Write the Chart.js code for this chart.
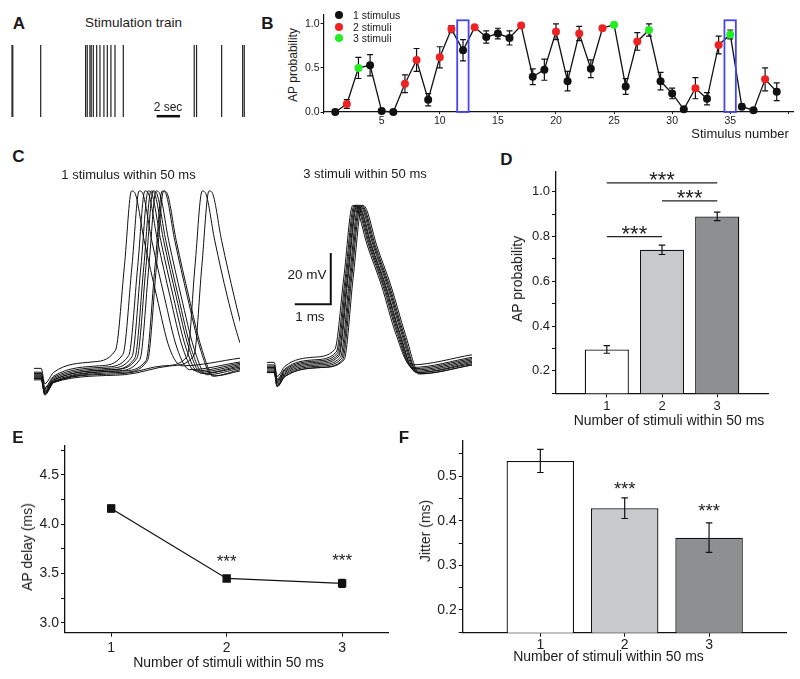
<!DOCTYPE html>
<html>
<head>
<meta charset="utf-8">
<script src="https://cdn.jsdelivr.net/npm/chart.js@4.4.1/dist/chart.umd.min.js"></script>
<style>
  body { margin: 0; background: #fff; }
  #fig { position: relative; width: 800px; height: 679px; overflow: hidden; background: #fff;
         font-family: 'Liberation Sans', Arial, sans-serif; color: #1a1a1a; }
  #fig canvas { position: absolute; }
  .t { position: absolute; white-space: nowrap; line-height: 1; transform: translate(-50%, -50%); }
  .v { transform: translate(-50%, -50%) rotate(-90deg); }
  .p { font-weight: bold; font-size: 17px; }
  .dot { position: absolute; width: 8px; height: 8px; border-radius: 50%; transform: translate(-50%, -50%); }
  .lg { position: absolute; font-size: 10.5px; line-height: 1; transform: translateY(-50%); white-space: nowrap; }
</style>
</head>
<body>
<div id="fig">
  <canvas id="trainChart" width="240" height="80" style="left:10px;top:41px"></canvas>
  <canvas id="probChart" width="500" height="140" style="left:300px;top:0px"></canvas>
  <canvas id="singleChart" width="206" height="217" style="left:34px;top:182px"></canvas>
  <canvas id="tripleChart" width="205" height="217" style="left:267px;top:176px"></canvas>
  <canvas id="groupProbChart" width="280" height="270" style="left:520px;top:160px"></canvas>
  <canvas id="delayChart" width="380" height="235" style="left:20px;top:435px"></canvas>
  <canvas id="jitterChart" width="400" height="240" style="left:400px;top:430px"></canvas>

  <div class="t p" style="left:19px;top:22.5px">A</div>
  <div class="t p" style="left:267.5px;top:22.5px">B</div>
  <div class="t p" style="left:18.5px;top:156px">C</div>
  <div class="t p" style="left:506.5px;top:159px">D</div>
  <div class="t p" style="left:18px;top:437px">E</div>
  <div class="t p" style="left:404px;top:437px">F</div>

  <div class="t" style="left:133.5px;top:23px;font-size:13.5px">Stimulation train</div>
  <div class="t" style="left:168px;top:107px;font-size:12px">2 sec</div>

  <div class="t v" style="left:292.5px;top:65px;font-size:12px">AP probability</div>
  <div class="t" style="left:740px;top:132.5px;font-size:13px">Stimulus number</div>
  <div class="dot" style="left:339px;top:15px;background:#111"></div>
  <div class="dot" style="left:339px;top:26.5px;background:#ee2222"></div>
  <div class="dot" style="left:339px;top:38.3px;background:#22ee22"></div>
  <div class="lg" style="left:353px;top:15px">1 stimulus</div>
  <div class="lg" style="left:353px;top:26.5px">2 stimuli</div>
  <div class="lg" style="left:353px;top:38.3px">3 stimuli</div>

  <div class="t" style="left:128.5px;top:174px;font-size:13px">1 stimulus within 50 ms</div>
  <div class="t" style="left:365px;top:172.7px;font-size:13px">3 stimuli within 50 ms</div>
  <div class="t" style="left:307px;top:275px;font-size:13.5px">20 mV</div>
  <div class="t" style="left:310px;top:316.7px;font-size:13.5px">1 ms</div>

  <div class="t v" style="left:516.7px;top:279px;font-size:14px">AP probability</div>
  <div class="t" style="left:669px;top:420px;font-size:14px">Number of stimuli within 50 ms</div>

  <div class="t v" style="left:26.7px;top:546.7px;font-size:14px">AP delay (ms)</div>
  <div class="t" style="left:228.5px;top:661.7px;font-size:14px">Number of stimuli within 50 ms</div>

  <div class="t v" style="left:425px;top:531px;font-size:14px">Jitter (ms)</div>
  <div class="t" style="left:608.5px;top:656px;font-size:14px">Number of stimuli within 50 ms</div>
</div>

<script>
// A: stimulus times in the train (s)
const trainTimes = [0, 0.07, 2.46, 6.31, 6.45, 6.68, 6.79, 6.97, 7.26, 7.54, 7.88, 8.17, 8.48, 8.83, 9.54, 15.62, 15.82, 17.97, 19.77, 19.91];
const trainBarSec = [12.4, 14.4];

// B: AP probability per stimulus
const stimNumbers = [1,2,3,4,5,6,7,8,9,10,11,12,13,14,15,16,17,18,19,20,21,22,23,24,25,26,27,28,29,30,31,32,33,34,35,36,37,38,39];
const apProb = [0.00,0.09,0.50,0.53,0.01,0.00,0.32,0.59,0.14,0.62,0.94,0.70,0.96,0.85,0.89,0.84,0.98,0.40,0.48,0.91,0.35,0.89,0.49,0.95,0.99,0.29,0.80,0.93,0.35,0.21,0.03,0.27,0.15,0.76,0.88,0.06,0.02,0.37,0.23];
const apProbErr = [0.01,0.05,0.12,0.12,0.01,0.01,0.10,0.13,0.07,0.12,0.04,0.12,0.02,0.07,0.06,0.08,0.02,0.09,0.12,0.09,0.11,0.08,0.10,0.02,0.02,0.09,0.10,0.07,0.10,0.06,0.02,0.12,0.07,0.10,0.05,0.03,0.02,0.13,0.10];
const stimCount = [1,2,3,1,1,1,2,2,1,2,2,1,2,1,1,1,2,1,1,2,1,2,1,2,3,1,2,3,1,1,1,2,1,2,3,1,1,2,1];
const highlighted = [12, 35];

// C: example traces, [time (ms), membrane potential (mV)]
const singleTraces = [
  [[0,-58],[0.2,-58],[0.3,-64],[0.55,-59.5],[1.61,-55.5],[2.26,-51],[2.51,-18],[2.71,11.5],[2.79,11],[3.06,-8],[3.41,-30],[3.76,-50],[4.11,-57],[5.72,-54]],
  [[0,-59.5],[0.2,-59.5],[0.3,-65.5],[0.55,-61],[1.82,-57],[2.47,-52.5],[2.72,-18],[2.92,11.5],[3.0,11],[3.27,-8],[3.62,-30],[3.97,-50],[4.32,-58.5],[5.72,-55.5]],
  [[0,-60],[0.2,-60],[0.3,-66],[0.55,-61.5],[1.98,-57.5],[2.63,-53],[2.88,-18],[3.08,11.5],[3.16,11],[3.43,-8],[3.78,-30],[4.13,-50],[4.48,-59],[5.72,-56]],
  [[0,-60.5],[0.2,-60.5],[0.3,-66.5],[0.55,-62],[2.07,-58],[2.72,-53.5],[2.97,-18],[3.17,11.5],[3.25,11],[3.52,-8],[3.87,-30],[4.22,-50],[4.57,-59.5],[5.72,-56.5]],
  [[0,-61],[0.2,-61],[0.3,-67],[0.55,-62.5],[2.15,-58.5],[2.8,-54],[3.05,-18],[3.25,11.5],[3.33,11],[3.6,-8],[3.95,-30],[4.3,-50],[4.65,-60],[5.72,-57]],
  [[0,-61],[0.2,-61],[0.3,-67],[0.55,-62.5],[2.21,-58.5],[2.86,-54],[3.11,-18],[3.31,11.5],[3.39,11],[3.66,-8],[4.01,-30],[4.36,-50],[4.71,-60],[5.72,-57.5]],
  [[0,-61.5],[0.2,-61.5],[0.3,-67.5],[0.55,-63],[2.29,-59],[2.94,-54.5],[3.19,-18],[3.39,11.5],[3.47,11],[3.74,-8],[4.09,-30],[4.44,-50],[4.79,-60.5],[5.72,-58]],
  [[0,-62],[0.2,-62],[0.3,-68],[0.55,-63.5],[2.46,-59],[3.11,-55],[3.36,-18],[3.56,11.5],[3.64,11],[3.91,-8],[4.26,-30],[4.61,-50],[4.96,-61],[5.72,-58.5]],
  [[0,-62],[0.2,-62],[0.3,-68],[0.55,-63.5],[2.5,-59.5],[3.15,-55],[3.4,-18],[3.6,11.5],[3.68,11],[3.95,-8],[4.3,-30],[4.65,-50],[5.0,-61],[5.72,-59]],
  [[0,-62],[0.2,-62],[0.3,-68],[0.55,-63],[2.5,-60],[3.6,-57],[4.25,-53.5],[4.47,-18],[4.67,11.5],[4.75,11],[5.02,-8],[5.37,-30],[5.72,-48],[5.9,-54]],
  [[0,-62.5],[0.2,-62.5],[0.3,-68.5],[0.55,-63.5],[2.5,-60.5],[3.8,-57],[4.44,-53],[4.66,-18],[4.86,11.5],[4.94,11],[5.21,-8],[5.56,-30],[5.91,-50]]
];
const tripleTraces = [
  [[0,-58],[0.2,-58],[0.28,-63.5],[0.5,-59.5],[1.28,-56],[1.88,-53],[2.13,-25],[2.38,3.5],[2.46,3],[2.78,-12],[3.18,-28],[3.58,-47],[3.98,-59],[5.7,-55]],
  [[0,-59],[0.2,-59],[0.28,-64.5],[0.5,-60.5],[1.32,-57],[1.92,-54],[2.17,-25],[2.42,3.5],[2.5,3],[2.82,-12],[3.22,-28],[3.62,-47],[4.02,-60],[5.7,-56]],
  [[0,-59.5],[0.2,-59.5],[0.28,-65],[0.5,-61],[1.35,-57.5],[1.95,-54.5],[2.2,-25],[2.45,3.5],[2.53,3],[2.85,-12],[3.25,-28],[3.65,-47],[4.05,-60.5],[5.7,-56.5]],
  [[0,-60],[0.2,-60],[0.28,-65.5],[0.5,-61.5],[1.38,-58],[1.98,-55],[2.23,-25],[2.48,3.5],[2.56,3],[2.88,-12],[3.28,-28],[3.68,-47],[4.08,-61],[5.7,-57]],
  [[0,-60.5],[0.2,-60.5],[0.28,-66],[0.5,-62],[1.4,-58.5],[2.0,-55.5],[2.25,-25],[2.5,3.5],[2.58,3],[2.9,-12],[3.3,-28],[3.7,-47],[4.1,-61.5],[5.7,-57.5]],
  [[0,-61],[0.2,-61],[0.28,-66.5],[0.5,-62.5],[1.44,-59],[2.04,-56],[2.29,-25],[2.54,3.5],[2.62,3],[2.94,-12],[3.34,-28],[3.74,-47],[4.14,-62],[5.7,-58]],
  [[0,-61.5],[0.2,-61.5],[0.28,-67],[0.5,-63],[1.47,-59.5],[2.07,-56.5],[2.32,-25],[2.57,3.5],[2.65,3],[2.97,-12],[3.37,-28],[3.77,-47],[4.17,-62],[5.7,-58.5]],
  [[0,-62],[0.2,-62],[0.28,-67.5],[0.5,-63.5],[1.5,-60],[2.1,-57],[2.35,-25],[2.6,3.5],[2.68,3],[3.0,-12],[3.4,-28],[3.8,-47],[4.2,-62.5],[5.7,-59]],
  [[0,-62],[0.2,-62],[0.28,-67.5],[0.5,-63.5],[1.54,-60],[2.14,-57],[2.39,-25],[2.64,3.5],[2.72,3],[3.04,-12],[3.44,-28],[3.84,-47],[4.24,-62.5],[5.7,-59]]
];
const scaleBarMs = [0.77, 1.77];
const scaleBarMv = [-35.2, -15.2];

// D, E, F: group summaries
const groups = [1, 2, 3];
const probMean = [0.296, 0.741, 0.890];
const probErr = [0.017, 0.021, 0.019];
const probSig = [[1, 2, 0.80], [2, 3, 0.96], [1, 3, 1.04]];
const delayMean = [4.16, 3.45, 3.40];
const delayErr = [0.035, 0.022, 0.04];
const delaySig = [[2, 3.665], [3, 3.675]];
const jitterMean = [0.534, 0.428, 0.362];
const jitterErr = [0.026, 0.023, 0.033];
const jitterSig = [[2, 0.482], [3, 0.433]];

const FONT = "'Liberation Sans', Arial, sans-serif";
Chart.defaults.font.family = FONT;
Chart.defaults.color = '#222';
Chart.defaults.animation = false;
Chart.defaults.plugins.legend.display = false;
Chart.defaults.plugins.tooltip.enabled = false;

const countColors = { 1: '#111111', 2: '#ee2222', 3: '#22ee22' };
const barFills = ['#ffffff', '#c8c9cb', '#8e8f91'];

function errorBars(xVals, means, errs, cap, under) {
  const hook = under ? 'beforeDatasetsDraw' : 'afterDatasetsDraw';
  return {
    id: 'errorBars',
    [hook](chart) {
      const { ctx, scales: { x, y } } = chart;
      ctx.save();
      ctx.strokeStyle = '#111';
      ctx.lineWidth = 1.2;
      xVals.forEach((xv, i) => {
        const px = x.getPixelForValue(xv);
        const top = y.getPixelForValue(means[i] + errs[i]);
        const bot = y.getPixelForValue(means[i] - errs[i]);
        ctx.beginPath();
        ctx.moveTo(px, top); ctx.lineTo(px, bot);
        ctx.moveTo(px - cap / 2, top); ctx.lineTo(px + cap / 2, top);
        ctx.moveTo(px - cap / 2, bot); ctx.lineTo(px + cap / 2, bot);
        ctx.stroke();
      });
      ctx.restore();
    }
  };
}

// stars: [x, y] or bracket [x1, x2, y]
function sigMarks(marks, size) {
  return {
    id: 'sigMarks',
    afterDatasetsDraw(chart) {
      const { ctx, scales: { x, y } } = chart;
      ctx.save();
      ctx.fillStyle = '#222';
      ctx.strokeStyle = '#222';
      ctx.lineWidth = 1.3;
      ctx.font = size + 'px ' + FONT;
      ctx.textAlign = 'center';
      ctx.textBaseline = 'alphabetic';
      marks.forEach(m => {
        let cx, cy;
        if (m.length === 3) {
          const x1 = x.getPixelForValue(m[0]), x2 = x.getPixelForValue(m[1]);
          const py = y.getPixelForValue(m[2]);
          ctx.beginPath(); ctx.moveTo(x1, py); ctx.lineTo(x2, py); ctx.stroke();
          cx = (x1 + x2) / 2; cy = py - 8.5;
        } else {
          cx = x.getPixelForValue(m[0]); cy = y.getPixelForValue(m[1]);
        }
        ctx.fillText('***', cx, cy + size * 0.57);
      });
      ctx.restore();
    }
  };
}

const highlightBoxes = {
  id: 'highlightBoxes',
  afterDatasetsDraw(chart) {
    const { ctx, scales: { x, y } } = chart;
    ctx.save();
    ctx.strokeStyle = '#4646ee';
    ctx.lineWidth = 1.8;
    highlighted.forEach(n => {
      const l = x.getPixelForValue(n - 0.5), r = x.getPixelForValue(n + 0.48);
      const t = y.getPixelForValue(1.04), b = y.getPixelForValue(0);
      ctx.strokeRect(l, t, r - l, b - t);
    });
    ctx.restore();
  }
};

function isMajor(v, step) {
  const k = v / step;
  return Math.abs(k - Math.round(k)) < 1e-6;
}

function valueAxis(min, max, step, major, size, width) {
  return {
    type: 'linear', min: min, max: max,
    grid: { drawOnChartArea: false, tickLength: 4, color: '#111' },
    border: { color: '#111', width: 1.3 },
    ticks: {
      stepSize: step, includeBounds: false, autoSkip: false, padding: 2,
      font: { size: size }, color: '#222',
      callback: v => (v >= major - 1e-9 && isMajor(v, major)) ? v.toFixed(1) : ''
    },
    afterFit: s => { s.width = width; }
  };
}

function groupAxis(min, max, size, height, pad) {
  return {
    type: 'linear', min: min, max: max, offset: false,
    grid: { drawOnChartArea: false, tickLength: 4, color: '#111', offset: false },
    border: { color: '#111', width: 1.3 },
    ticks: { stepSize: 1, includeBounds: false, autoSkip: false, padding: pad, maxRotation: 0,
             font: { size: size }, color: '#222' },
    afterFit: s => { s.height = height; }
  };
}

// A
new Chart(document.getElementById('trainChart'), {
  type: 'scatter',
  data: {
    datasets: [{
      data: trainTimes.map(t => ({ x: t, y: 0 })),
      pointStyle: 'line', rotation: 90, radius: 36, borderWidth: 1.2,
      borderColor: '#222', backgroundColor: '#222'
    }, {
      data: trainBarSec.map(t => ({ x: t, y: -0.88 })),
      showLine: true, borderColor: '#111', borderWidth: 2.5, pointRadius: 0
    }]
  },
  options: {
    responsive: false,
    layout: { padding: 0, autoPadding: false },
    scales: {
      x: { type: 'linear', display: false, min: -0.17, max: 20.4 },
      y: { display: false, min: -1, max: 1 }
    }
  }
});

// B
new Chart(document.getElementById('probChart'), {
  type: 'line',
  data: {
    datasets: [{
      data: stimNumbers.map((n, i) => ({ x: n, y: apProb[i] })),
      borderColor: '#111', borderWidth: 1.3,
      pointRadius: 4, pointHoverRadius: 4, pointBorderWidth: 0,
      pointBackgroundColor: c => countColors[stimCount[c.dataIndex]],
      pointBorderColor: c => countColors[stimCount[c.dataIndex]],
      clip: false
    }]
  },
  options: {
    responsive: false,
    layout: { padding: { top: 15, right: 7, left: 0, bottom: 0 }, autoPadding: false },
    scales: {
      x: {
        type: 'linear', min: 0, max: 40.4, offset: false,
        grid: { drawOnChartArea: false, tickLength: 2, color: '#111' },
        border: { color: '#111', width: 1.2 },
        ticks: { stepSize: 5, includeBounds: false, autoSkip: false, padding: 1, maxRotation: 0,
                 font: { size: 10.5 }, color: '#222',
                 callback: v => (v > 0 && v < 40) ? String(v) : '' },
        afterFit: s => { s.height = 28; }
      },
      y: {
        type: 'linear', min: 0, max: 1.1,
        grid: { drawOnChartArea: false, tickLength: 3, color: '#111' },
        border: { color: '#111', width: 1.2 },
        ticks: { stepSize: 0.5, includeBounds: false, padding: 1, font: { size: 10.5 }, color: '#222',
                 callback: v => v.toFixed(1) },
        afterFit: s => { s.width = 23.6; }
      }
    }
  },
  plugins: [errorBars(stimNumbers, apProb, apProbErr, 6, true), highlightBoxes]
});

// C
function traceSets(traces) {
  return traces.map(tr => ({
    data: tr.map(p => ({ x: p[0], y: p[1] })),
    showLine: true, borderColor: '#111', borderWidth: 1, pointRadius: 0,
    cubicInterpolationMode: 'monotone'
  }));
}
function traceOptions(xMax) {
  return {
    responsive: false,
    layout: { padding: 0, autoPadding: false },
    scales: {
      x: { type: 'linear', display: false, min: 0, max: xMax },
      y: { display: false, min: -70, max: 15 }
    }
  };
}
new Chart(document.getElementById('singleChart'), {
  type: 'scatter',
  data: { datasets: traceSets(singleTraces) },
  options: traceOptions(5.72)
});
new Chart(document.getElementById('tripleChart'), {
  type: 'scatter',
  data: {
    datasets: traceSets(tripleTraces).concat([{
      data: [{ x: scaleBarMs[0], y: scaleBarMv[0] }, { x: scaleBarMs[1], y: scaleBarMv[0] }, { x: scaleBarMs[1], y: scaleBarMv[1] }],
      showLine: true, borderColor: '#111', borderWidth: 2, pointRadius: 0
    }])
  },
  options: traceOptions(5.69)
});

// D
function barData(means) {
  return {
    datasets: [{
      data: groups.map((g, i) => ({ x: g, y: means[i] })),
      backgroundColor: barFills, borderColor: '#111', borderWidth: 1.3,
      categoryPercentage: 0.8, barPercentage: 1, clip: 0
    }]
  };
}
new Chart(document.getElementById('groupProbChart'), {
  type: 'bar',
  data: barData(probMean),
  options: {
    responsive: false,
    layout: { padding: { top: 11.7, right: 32, left: 0, bottom: 0 }, autoPadding: false },
    scales: {
      x: groupAxis(0.08, 3.92, 13, 36.7, 1),
      y: valueAxis(0.1, 1.09, 0.1, 0.2, 13, 36)
    }
  },
  plugins: [errorBars(groups, probMean, probErr, 6.5, false), sigMarks(probSig, 22)]
});

// E
new Chart(document.getElementById('delayChart'), {
  type: 'line',
  data: {
    datasets: [{
      data: groups.map((g, i) => ({ x: g, y: delayMean[i] })),
      borderColor: '#111', borderWidth: 1.3,
      pointStyle: 'rect', pointRadius: 5, pointHoverRadius: 5,
      pointBackgroundColor: '#111', pointBorderColor: '#111', clip: false
    }]
  },
  options: {
    responsive: false,
    layout: { padding: { top: 10.4, right: 11.7, left: 0, bottom: 0 }, autoPadding: false },
    scales: {
      x: groupAxis(0.6, 3.4, 14, 37.3, 3),
      y: valueAxis(2.9, 4.8, 0.25, 0.5, 14, 45)
    }
  },
  plugins: [errorBars(groups, delayMean, delayErr, 6, true), sigMarks(delaySig, 17)]
});

// F
new Chart(document.getElementById('jitterChart'), {
  type: 'bar',
  data: barData(jitterMean),
  options: {
    responsive: false,
    layout: { padding: { top: 10.3, right: 13.3, left: 0, bottom: 0 }, autoPadding: false },
    scales: {
      x: groupAxis(0.08, 3.92, 14, 37.3, 0),
      y: valueAxis(0.149, 0.58, 0.05, 0.1, 14, 62.7)
    }
  },
  plugins: [errorBars(groups, jitterMean, jitterErr, 6.5, false), sigMarks(jitterSig, 18.5)]
});
</script>
</body>
</html>
